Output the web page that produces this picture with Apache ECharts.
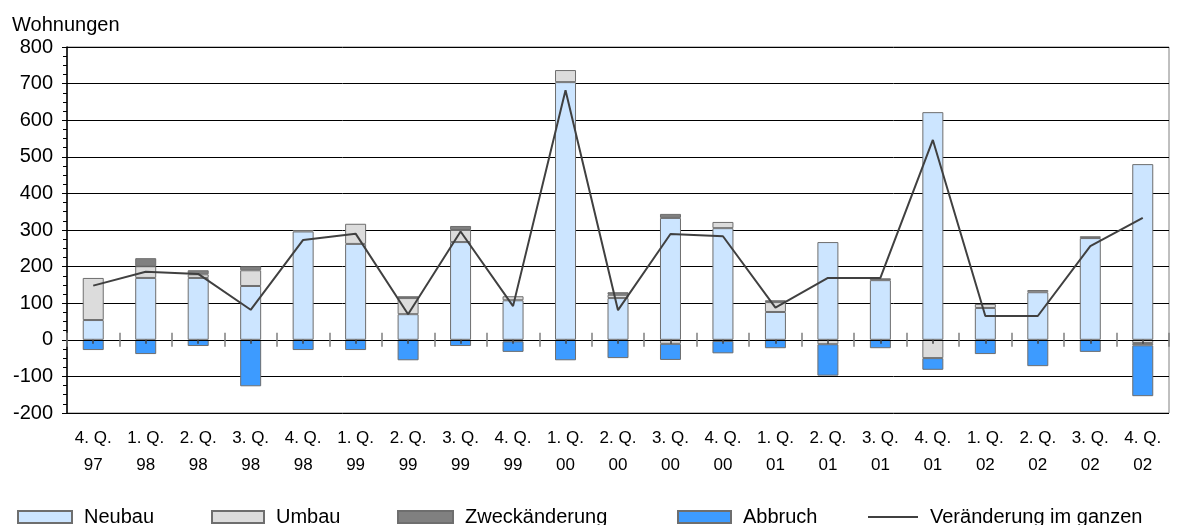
<!DOCTYPE html>
<html>
<head>
<meta charset="utf-8">
<script src="https://cdn.jsdelivr.net/npm/echarts@6/dist/echarts.min.js"></script>
<style>
html,body{margin:0;padding:0;background:#fff;}
#chart{width:1189px;height:525px;}
</style>
</head>
<body>
<div id="chart"></div>
<script>
const categories = ["4. Q.\n97","1. Q.\n98","2. Q.\n98","3. Q.\n98","4. Q.\n98","1. Q.\n99","2. Q.\n99","3. Q.\n99","4. Q.\n99","1. Q.\n00","2. Q.\n00","3. Q.\n00","4. Q.\n00","1. Q.\n01","2. Q.\n01","3. Q.\n01","4. Q.\n01","1. Q.\n02","2. Q.\n02","3. Q.\n02","4. Q.\n02"];
const neubau = [54,169,169,147,296,262,70,267,108,704,114,333,305,76,267,163,622,87,130,278,480];
const umbau = [115,32,10,43,null,55,44,33,11,33,9,-11,17,27,-12,null,-50,11,6,5,-9];
const zweckaenderung = [null,22,11,11,4,null,5,11,-4,null,7,11,-3,5,null,5,null,null,null,null,-6];
const abbruch = [-28,-39,-17,-127,-28,-28,-56,-17,-29,-56,-50,-44,-34,-23,-86,-23,-32,-39,-72,-33,-139];
const veraenderung = [148,186,180,82,273,290,70,296,92,682,81,289,283,88,169,169,546,65,65,256,333];
const yTicks = {min:-200, max:800, interval:100};

const FONT = "'Liberation Sans', Arial, sans-serif";
const chart = echarts.init(document.getElementById('chart'));

function barSeries(name, data, color) {
  return {
    name: name, type: 'bar', stack: 'total', data: data, barWidth: 21,
    xAxisIndex: 0,
    itemStyle: {color: color, borderColor: '#6e6e6e', borderWidth: 1},
    emphasis: {disabled: true}
  };
}
function legendAt(name, left, w, h, icon) {
  return {
    data: [{name: name, icon: icon || 'rect'}], left: left, top: 507, padding: 0, itemWidth: w, itemHeight: h,
    textStyle: {fontFamily: FONT, fontSize: 20, color: '#000', padding: [0,0,0,7]},
    selectedMode: false
  };
}
const hiddenCat = (extra) => Object.assign({
  type: 'category', data: categories, axisLabel: {show: false},
  splitLine: {show: false}
}, extra);

chart.setOption({
  animation: false,
  textStyle: {fontFamily: FONT},
  grid: {left: 67, right: 20, top: 47, bottom: 112, show: true, borderColor: '#808080', borderWidth: 1},
  legend: [
    legendAt('Neubau', 17, 54, 12),
    legendAt('Umbau', 211, 52, 12),
    legendAt('Zweckänderung', 397, 55, 12),
    legendAt('Abbruch', 677, 53, 12),
    legendAt('Veränderung im ganzen', 868, 50, 2)
  ],
  xAxis: [
    {
      type: 'category', data: categories, position: 'bottom',
      axisLine: {show: false, onZero: false}, axisTick: {show: false},
      axisLabel: {interval: 0, fontSize: 17, lineHeight: 27, margin: 12, color: '#000', fontFamily: FONT},
      splitLine: {show: false}
    },
    hiddenCat({
      position: 'top', z: 5,
      axisLine: {show: true, onZero: true, onZeroAxisIndex: 0, lineStyle: {color: '#000', width: 1}},
      axisTick: {show: true, inside: false, length: 7, lineStyle: {color: '#808080', width: 1.5}}
    }),
    hiddenCat({
      position: 'top', z: 5,
      axisLine: {show: false, onZero: true, onZeroAxisIndex: 0},
      axisTick: {show: true, inside: true, length: 7, lineStyle: {color: '#808080', width: 1.5}}
    }),
    hiddenCat({
      position: 'top', z: 6,
      axisLine: {show: false, onZero: true, onZeroAxisIndex: 0},
      axisTick: {show: true, inside: true, alignWithLabel: true, length: 4, lineStyle: {color: '#404040', width: 1.5}}
    })
  ],
  yAxis: {
    type: 'value', min: yTicks.min, max: yTicks.max, interval: yTicks.interval,
    name: 'Wohnungen', nameLocation: 'end', nameGap: 12,
    nameTextStyle: {fontSize: 20, color: '#000', align: 'left', padding: [0,0,0,-55], fontFamily: FONT},
    axisLine: {show: true, lineStyle: {color: '#000', width: 1.5}},
    axisTick: {show: true, length: 5, lineStyle: {color: '#000'}},
    minorTick: {show: true, splitNumber: 4, length: 4, lineStyle: {color: '#000'}},
    axisLabel: {fontSize: 20, color: '#000', margin: 14, fontFamily: FONT},
    splitLine: {show: true, lineStyle: {color: '#000', width: 1}}
  },
  series: [
    barSeries('Neubau', neubau, '#cce5ff'),
    barSeries('Umbau', umbau, '#dcdcdc'),
    barSeries('Zweckänderung', zweckaenderung, '#808080'),
    barSeries('Abbruch', abbruch, '#3d9bff'),
    {
      name: 'Veränderung im ganzen', type: 'line', data: veraenderung, xAxisIndex: 0,
      symbol: 'none', z: 4,
      lineStyle: {color: '#404040', width: 2},
      itemStyle: {color: '#404040'},
      emphasis: {disabled: true}
    }
  ]
});
</script>
</body>
</html>
